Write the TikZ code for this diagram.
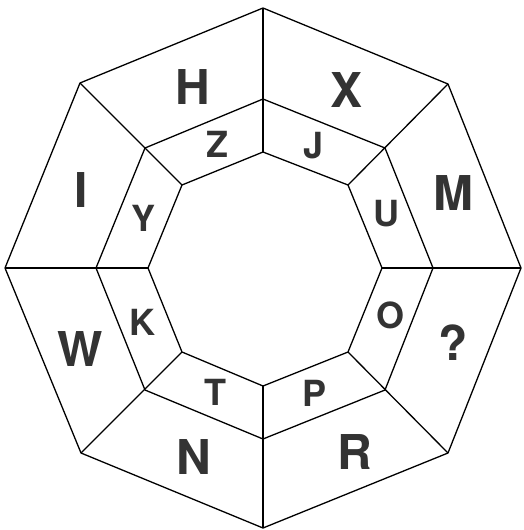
\documentclass[tikz,border=0pt]{standalone}
\usepackage{fontspec}
\setmainfont{TeX Gyre Heros}
\begin{document}
\begin{tikzpicture}[x=1pt,y=-1pt,line join=round,
  edge/.style={draw=black,line width=1.3pt},
  big/.style={inner sep=0pt,text=black!80,font=\bfseries\fontsize{48}{48}\selectfont},
  small/.style={inner sep=0pt,text=black!80,font=\bfseries\fontsize{36}{36}\selectfont}]
\useasboundingbox (0,0) rectangle (523,530);
% outer vertices
\coordinate (o1) at (263,8);
\coordinate (o2) at (448,84);
\coordinate (o3) at (521,268);
\coordinate (o4) at (448,453);
\coordinate (o5) at (263,528);
\coordinate (o6) at (81,453);
\coordinate (o7) at (5,268);
\coordinate (o8) at (80,83);
% middle vertices
\coordinate (m1) at (263,99);
\coordinate (m2) at (385,148);
\coordinate (m3) at (433,268);
\coordinate (m4) at (385,390);
\coordinate (m5) at (263,439);
\coordinate (m6) at (145,390);
\coordinate (m7) at (96,268);
\coordinate (m8) at (145,148);
% inner vertices
\coordinate (i1) at (263,152);
\coordinate (i2) at (348,185);
\coordinate (i3) at (382,268);
\coordinate (i4) at (348,352);
\coordinate (i5) at (263,386);
\coordinate (i6) at (182,352);
\coordinate (i7) at (148,268);
\coordinate (i8) at (182,185);
\draw[edge] (o1)--(o2)--(o3)--(o4)--(o5)--(o6)--(o7)--(o8)--cycle;
\draw[edge] (m1)--(m2)--(m3)--(m4)--(m5)--(m6)--(m7)--(m8)--cycle;
\draw[edge] (i1)--(i2)--(i3)--(i4)--(i5)--(i6)--(i7)--(i8)--cycle;
\foreach \k in {1,...,8} {\draw[edge] (o\k)--(i\k);}
% outer letters
\node[big] (lH) at (193,87) {H};
\node[big] (lX) at (347,90) {X};
\node[big] (lM) at (453,193) {M};
\node[big] (lQ) at (453,343) {?};
\node[big] (lR) at (355,452) {R};
\node[big] (lN) at (194,457) {N};
\node[big] (lW) at (80,349) {W};
\node[big] (lI) at (81,190) {I};
% inner letters
\node[small] (lZ) at (217,144) {Z};
\node[small] (lJ) at (314,146) {J};
\node[small] (lU) at (386,214) {U};
\node[small] (lO) at (390,315) {O};
\node[small] (lP) at (315,393) {P};
\node[small] (lT) at (215,392) {T};
\node[small] (lK) at (142,322) {K};
\node[small] (lY) at (144,218) {Y};
\end{tikzpicture}
\end{document}
